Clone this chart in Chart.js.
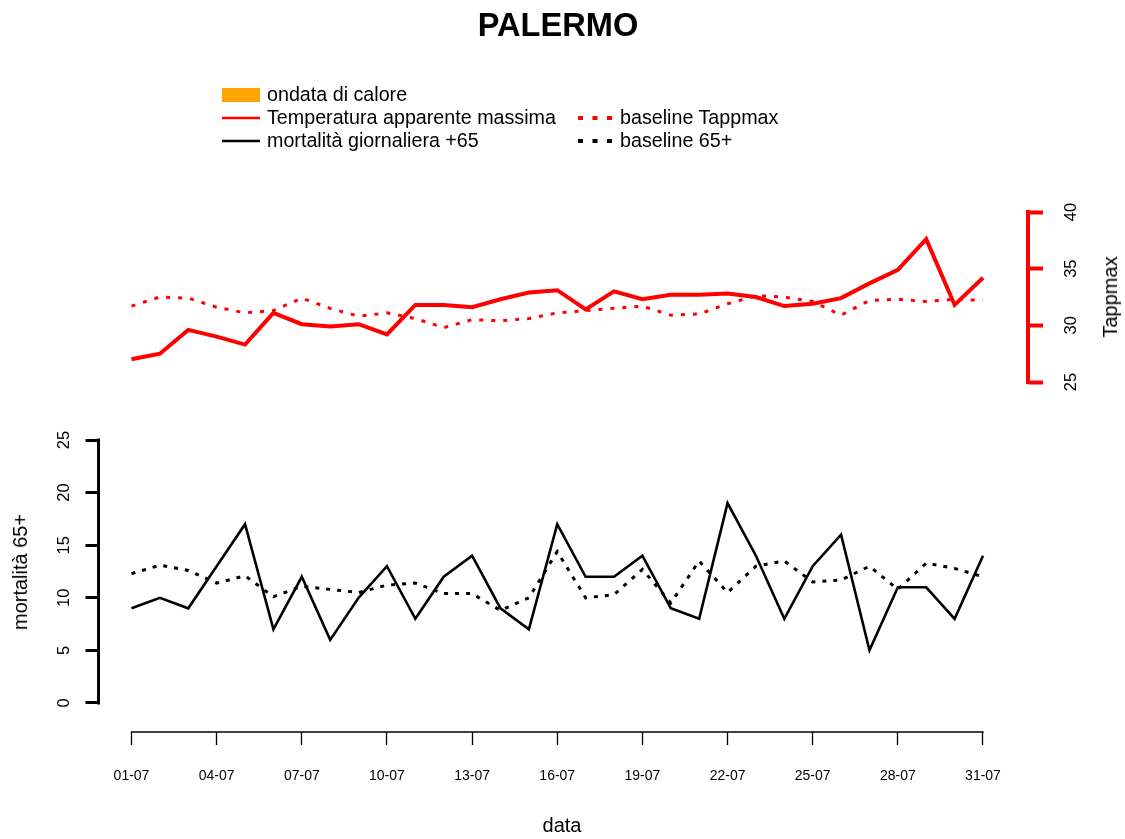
<!DOCTYPE html>
<html>
<head>
<meta charset="utf-8">
<script src="https://cdn.jsdelivr.net/npm/chart.js@4/dist/chart.umd.min.js"></script>
<style>
  html, body { margin: 0; padding: 0; background: #fff; overflow: hidden; }
  body { width: 1125px; height: 839px; position: relative; font-family: "Liberation Sans", Arial, sans-serif; color: #000; }
  #c { position: absolute; left: 0; top: 0; }
  .t { position: absolute; white-space: nowrap; line-height: 1; }
  #title { left: 558px; top: 25px; font-size: 32.6px; font-weight: bold; transform: translate(-50%, -50%); }
  .lab { font-size: 20px; }
  #xlab { left: 562px; top: 825px; transform: translate(-50%, -50%); }
  #ylab { left: 20px; top: 572px; transform: translate(-50%, -50%) rotate(-90deg); }
  #rlab { left: 1110px; top: 297px; transform: translate(-50%, -50%) rotate(-90deg); }
  .leg { font-size: 19.7px; transform: translateY(-50%); }
  svg.key { position: absolute; }
</style>
</head>
<body>
<canvas id="c" width="1125" height="839"></canvas>

<div class="t" id="title">PALERMO</div>
<div class="t lab" id="xlab">data</div>
<div class="t lab" id="ylab">mortalità 65+</div>
<div class="t lab" id="rlab">Tappmax</div>

<!-- legenda -->
<svg class="key" style="left:222px;top:88px" width="38" height="14"><rect x="0" y="0" width="38" height="14" fill="#FFA500"/></svg>
<div class="t leg" style="left:267px;top:95px">ondata di calore</div>
<svg class="key" style="left:222px;top:112px" width="38" height="12"><line x1="0" y1="6" x2="38" y2="6" stroke="#FF0000" stroke-width="2.6"/></svg>
<div class="t leg" style="left:267px;top:118px">Temperatura apparente massima</div>
<svg class="key" style="left:222px;top:135px" width="38" height="12"><line x1="0" y1="6" x2="38" y2="6" stroke="#000" stroke-width="2.6"/></svg>
<div class="t leg" style="left:267px;top:141px">mortalità giornaliera +65</div>
<svg class="key" style="left:578px;top:112px" width="36" height="12"><line x1="0" y1="6" x2="34" y2="6" stroke="#FF0000" stroke-width="4" stroke-dasharray="5 9.5"/></svg>
<div class="t leg" style="left:620px;top:118px">baseline Tappmax</div>
<svg class="key" style="left:578px;top:135px" width="36" height="12"><line x1="0" y1="6" x2="34" y2="6" stroke="#000" stroke-width="4" stroke-dasharray="5 9.5"/></svg>
<div class="t leg" style="left:620px;top:141px">baseline 65+</div>

<script>
// giorni di luglio
const dateLabels = ['01-07','02-07','03-07','04-07','05-07','06-07','07-07','08-07','09-07','10-07',
  '11-07','12-07','13-07','14-07','15-07','16-07','17-07','18-07','19-07','20-07',
  '21-07','22-07','23-07','24-07','25-07','26-07','27-07','28-07','29-07','30-07','31-07'];

// temperatura apparente massima e baseline
const tappmax = [27.0, 27.5, 29.6, 29.0, 28.3, 31.1, 30.1, 29.9, 30.1, 29.2,
  31.8, 31.8, 31.6, 32.3, 32.9, 33.1, 31.4, 33.0, 32.3, 32.7,
  32.7, 32.8, 32.5, 31.7, 31.9, 32.4, 33.7, 34.9, 37.6, 31.8, 34.2];
const baselineTapp = [31.7, 32.5, 32.4, 31.6, 31.1, 31.3, 32.4, 31.5, 30.8, 31.1,
  30.6, 29.8, 30.5, 30.4, 30.6, 31.1, 31.3, 31.5, 31.7, 30.9,
  31.0, 31.9, 32.6, 32.5, 32.1, 30.9, 32.2, 32.3, 32.1, 32.3, 32.2];

// mortalità giornaliera 65+ e baseline
const mortality = [9, 10, 9, 13, 17, 7, 12, 6, 10, 13,
  8, 12, 14, 9, 7, 17, 12, 12, 14, 9,
  8, 19, 14, 8, 13, 16, 5, 11, 11, 8, 14];
const baseline65 = [12.3, 13.1, 12.6, 11.4, 12.1, 10.1, 11.1, 10.8, 10.5, 11.2,
  11.4, 10.4, 10.4, 8.8, 10.0, 14.4, 10.0, 10.3, 12.7, 9.5,
  13.5, 10.5, 13.0, 13.5, 11.5, 11.7, 13.0, 10.8, 13.3, 12.8, 12.0];

// tick
const xTicks = [1, 4, 7, 10, 13, 16, 19, 22, 25, 28, 31];
const mortTicks = [0, 5, 10, 15, 20, 25];
const tappTicks = [25, 30, 35, 40];

const pts = arr => arr.map((v, i) => ({ x: i + 1, y: v }));
const FONT = "'Liberation Sans', Arial, sans-serif";

// assi in stile R: linea solo sul tratto dei tick
const rAxes = {
  id: 'rAxes',
  afterDraw(chart) {
    const { ctx, chartArea, scales } = chart;
    const seg = (x1, y1, x2, y2, color, w) => {
      ctx.save();
      ctx.strokeStyle = color; ctx.lineWidth = w; ctx.lineCap = 'butt';
      ctx.beginPath(); ctx.moveTo(x1, y1); ctx.lineTo(x2, y2); ctx.stroke();
      ctx.restore();
    };
    const yM = scales.yM, yT = scales.yT, x = scales.x;
    seg(chartArea.left, yM.getPixelForValue(mortTicks[0]) + 1.5, chartArea.left, yM.getPixelForValue(mortTicks[mortTicks.length - 1]) - 1.5, '#000', 3);
    seg(chartArea.right, yT.getPixelForValue(tappTicks[0]) + 2, chartArea.right, yT.getPixelForValue(tappTicks[tappTicks.length - 1]) - 2, '#FF0000', 4);
    seg(x.getPixelForValue(xTicks[0]) - 0.65, chartArea.bottom, x.getPixelForValue(xTicks[xTicks.length - 1]) + 0.65, chartArea.bottom, '#000', 1.3);
  }
};

new Chart(document.getElementById('c'), {
  type: 'line',
  data: {
    datasets: [
      { label: 'Temperatura apparente massima', data: pts(tappmax), yAxisID: 'yT',
        borderColor: '#FF0000', borderWidth: 4, pointRadius: 0, tension: 0 },
      { label: 'baseline Tappmax', data: pts(baselineTapp), yAxisID: 'yT',
        borderColor: '#FF0000', borderWidth: 3, borderDash: [4, 8], pointRadius: 0, tension: 0 },
      { label: 'mortalità giornaliera +65', data: pts(mortality), yAxisID: 'yM',
        borderColor: '#000', borderWidth: 2.6, pointRadius: 0, tension: 0 },
      { label: 'baseline 65+', data: pts(baseline65), yAxisID: 'yM',
        borderColor: '#000', borderWidth: 3, borderDash: [4, 7], pointRadius: 0, tension: 0 }
    ]
  },
  options: {
    responsive: false,
    animation: false,
    events: [],
    layout: { padding: { top: 200, left: 0, right: 0, bottom: 0 } },
    plugins: { legend: { display: false }, tooltip: { enabled: false }, title: { display: false } },
    scales: {
      x: {
        type: 'linear', position: 'bottom',
        min: -0.1627, max: 32.5855,
        afterBuildTicks: s => { s.ticks = xTicks.map(v => ({ value: v })); },
        afterFit: s => { s.height = 107; },
        grid: { drawOnChartArea: false, drawTicks: true, tickLength: 13, tickWidth: 1.3, tickColor: '#000' },
        border: { display: false },
        ticks: { autoSkip: false, maxRotation: 0, minRotation: 0, padding: 22.6, color: '#000',
          font: { family: FONT, size: 14 }, callback: v => dateLabels[v - 1] }
      },
      yM: {
        type: 'linear', position: 'left',
        min: -2.757, max: 47.814,
        afterBuildTicks: s => { s.ticks = mortTicks.map(v => ({ value: v })); },
        afterFit: s => { s.width = 98.5; },
        grid: { drawOnChartArea: false, drawTicks: true, tickLength: 13, tickWidth: 3, tickColor: '#000' },
        border: { display: false },
        ticks: { minRotation: 90, maxRotation: 90, crossAlign: 'center', padding: 12, color: '#000',
          font: { family: FONT, size: 16.5 } }
      },
      yT: {
        type: 'linear', position: 'right',
        min: -5.882, max: 41.059,
        afterBuildTicks: s => { s.ticks = tappTicks.map(v => ({ value: v })); },
        afterFit: s => { s.width = 97; },
        grid: { drawOnChartArea: false, drawTicks: true, tickLength: 15, tickWidth: 4, tickColor: '#FF0000' },
        border: { display: false },
        ticks: { minRotation: 90, maxRotation: 90, crossAlign: 'center', padding: 19, color: '#000',
          font: { family: FONT, size: 16.5 } }
      }
    }
  },
  plugins: [rAxes]
});
</script>
</body>
</html>
